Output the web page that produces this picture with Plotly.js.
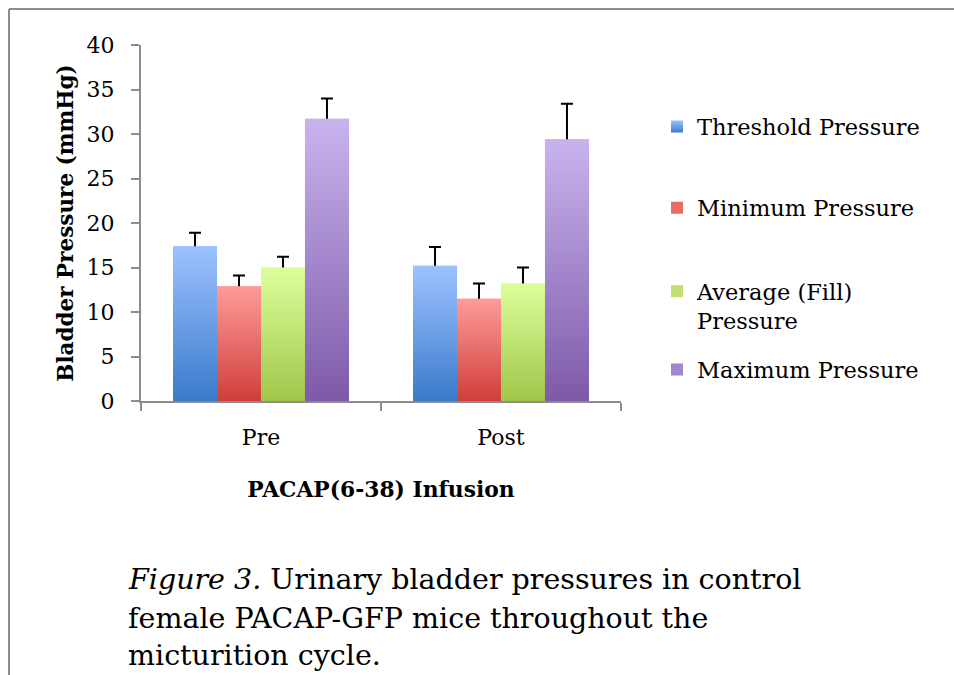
<!DOCTYPE html>
<html>
<head>
<meta charset="utf-8">
<script src="https://cdn.plot.ly/plotly-3.0.1.min.js"></script>
<style>
  html, body { margin: 0; padding: 0; background: #ffffff; }
  #chart { width: 954px; height: 675px; }
</style>
</head>
<body>
<div id="chart"></div>
<script>
// ---------------- data ----------------
const categories = ['Pre', 'Post'];
const seriesNames = ['Threshold Pressure', 'Minimum Pressure', 'Average (Fill)<br>Pressure', 'Maximum Pressure'];
const thresholdPressure = [17.4, 15.2];
const thresholdError = [1.5, 2.1];
const minimumPressure = [12.9, 11.5];
const minimumError = [1.2, 1.7];
const averagePressure = [15.0, 13.2];
const averageError = [1.2, 1.8];
const maximumPressure = [31.7, 29.4];
const maximumError = [2.3, 4.0];
const yTickValues = [0, 5, 10, 15, 20, 25, 30, 35, 40];
const yAxisTitle = 'Bladder Pressure (mmHg)';
const xAxisTitle = 'PACAP(6-38) Infusion';
const captionLines = ['<i>Figure 3.</i> Urinary bladder pressures in control',
                      'female PACAP-GFP mice throughout the',
                      'micturition cycle.'];

// ---------------- styles ----------------
const seriesValues = [thresholdPressure, minimumPressure, averagePressure, maximumPressure];
const seriesErrors = [thresholdError, minimumError, averageError, maximumError];
const midColors = ['#6a9ee6', '#e56e6b', '#c0e070', '#a386cc'];
const gradTop = ['#9cc2ff', '#ff9b98', '#dcff9c', '#c9b3ed'];
const gradBottom = ['#3b7acb', '#d03e3a', '#a0c64a', '#7d5aa9'];
const legendY = [0.7697, 0.5421, 0.2669, 0.0871];
const legendIds = ['legend', 'legend2', 'legend3', 'legend4'];
const captionCenters = [579.5, 618.5, 655];

const textFont = 'DejaVu Serif, serif';
const axisGray = '#8c8c8c';

const traces = [];
// error-bar carrying bars (underneath)
seriesValues.forEach((vals, i) => {
  traces.push({
    type: 'bar', x: categories, y: vals, name: seriesNames[i],
    offsetgroup: 'g' + i, showlegend: false, legend: legendIds[i],
    marker: { color: midColors[i], line: { width: 0 } },
    error_y: { type: 'data', array: seriesErrors[i], symmetric: true,
               color: '#000000', thickness: 2, width: 6 },
    meta: i, hoverinfo: 'skip'
  });
});
// visible bars on top (hide lower half of error bars)
seriesValues.forEach((vals, i) => {
  traces.push({
    type: 'bar', x: categories, y: vals, name: seriesNames[i],
    offsetgroup: 'g' + i, showlegend: true, legend: legendIds[i],
    marker: { color: midColors[i], line: { width: 0 } },
    meta: i, hoverinfo: 'skip'
  });
});

const plotTop = 45, plotBottom = 401, plotLeft = 141, plotRight = 621;
const ph = plotBottom - plotTop, pw = plotRight - plotLeft;
const px2x = (p) => (p - plotLeft) / pw;
const px2y = (p) => (plotBottom - p) / ph;

const layout = {
  width: 954, height: 675,
  paper_bgcolor: '#ffffff', plot_bgcolor: '#ffffff',
  margin: { l: plotLeft, r: 954 - plotRight, t: plotTop, b: 675 - plotBottom, pad: 0 },
  font: { family: textFont, size: 22, color: '#000000' },
  barmode: 'group', bargap: 0.267, bargroupgap: 0,
  xaxis: {
    type: 'category', showgrid: false, zeroline: false,
    showline: true, linecolor: axisGray, linewidth: 2,
    ticks: 'outside', tickson: 'boundaries', ticklen: 8, tickwidth: 2, tickcolor: axisGray,
    tickfont: { family: textFont, size: 22, color: '#000' },
    ticklabelstandoff: 16,
    title: { text: '<b>' + xAxisTitle + '</b>', font: { family: textFont, size: 21.8, color: '#000' }, standoff: 32 },
    automargin: false
  },
  yaxis: {
    range: [0, 40], tickvals: yTickValues, showgrid: false, zeroline: false,
    showline: true, linecolor: axisGray, linewidth: 2,
    ticks: 'outside', ticklen: 8, tickwidth: 2, tickcolor: axisGray,
    tickfont: { family: textFont, size: 22, color: '#000' },
    ticklabelstandoff: 12,
    title: { text: '<b>' + yAxisTitle + '</b>', font: { family: textFont, size: 21.5, color: '#000' }, standoff: 7 },
    automargin: false
  },
  shapes: [
    { type: 'line', xref: 'paper', yref: 'paper', x0: px2x(9), x1: px2x(9), y0: px2y(9), y1: px2y(700),
      line: { color: axisGray, width: 2 } },
    { type: 'line', xref: 'paper', yref: 'paper', x0: px2x(9), x1: px2x(980), y0: px2y(9), y1: px2y(9),
      line: { color: axisGray, width: 2 } }
  ],
  annotations: captionLines.map((t, k) => ({
    xref: 'paper', yref: 'paper', x: px2x(126), y: px2y(captionCenters[k]),
    xanchor: 'left', yanchor: 'middle', showarrow: false, align: 'left',
    text: t, font: { family: textFont, size: 28.5, color: '#000' }
  }))
};
legendIds.forEach((id, i) => {
  layout[id] = {
    x: 1.075, xanchor: 'left', y: legendY[i], yanchor: 'middle',
    bgcolor: 'rgba(0,0,0,0)', borderwidth: 0, valign: 'top',
    font: { family: textFont, size: 22.5, color: '#000' }
  };
});

const gd = document.getElementById('chart');

function applyGradients() {
  const svg = gd.querySelector('svg.main-svg');
  if (!svg) return;
  let defs = svg.querySelector('defs#bar-gradients');
  if (!defs) {
    const ns = 'http://www.w3.org/2000/svg';
    defs = document.createElementNS(ns, 'defs');
    defs.setAttribute('id', 'bar-gradients');
    gradTop.forEach((c, i) => {
      const lg = document.createElementNS(ns, 'linearGradient');
      lg.setAttribute('id', 'bargrad' + i);
      lg.setAttribute('x1', '0'); lg.setAttribute('y1', '0');
      lg.setAttribute('x2', '0'); lg.setAttribute('y2', '1');
      const s1 = document.createElementNS(ns, 'stop');
      s1.setAttribute('offset', '0'); s1.setAttribute('stop-color', gradTop[i]);
      const s2 = document.createElementNS(ns, 'stop');
      s2.setAttribute('offset', '1'); s2.setAttribute('stop-color', gradBottom[i]);
      lg.appendChild(s1); lg.appendChild(s2);
      defs.appendChild(lg);
    });
    svg.insertBefore(defs, svg.firstChild);
  }
  gd.querySelectorAll('.barlayer .trace').forEach((g) => {
    const d = g.__data__;
    if (!d || !d[0] || !d[0].trace) return;
    const k = d[0].trace.meta;
    g.querySelectorAll('.point path').forEach((p) => { p.style.fill = 'url(#bargrad' + k + ')'; });
  });
  gd.querySelectorAll('.legend .traces').forEach((g) => {
    const d = g.__data__;
    if (!d || !d[0] || !d[0].trace) return;
    const k = d[0].trace.meta;
    g.querySelectorAll('.legendpoints path').forEach((p) => { p.style.fill = 'url(#bargrad' + k + ')'; });
  });
}

Plotly.newPlot(gd, traces, layout, { staticPlot: true, displayModeBar: false }).then(() => {
  applyGradients();
  gd.on('plotly_afterplot', applyGradients);
});
</script>
</body>
</html>
